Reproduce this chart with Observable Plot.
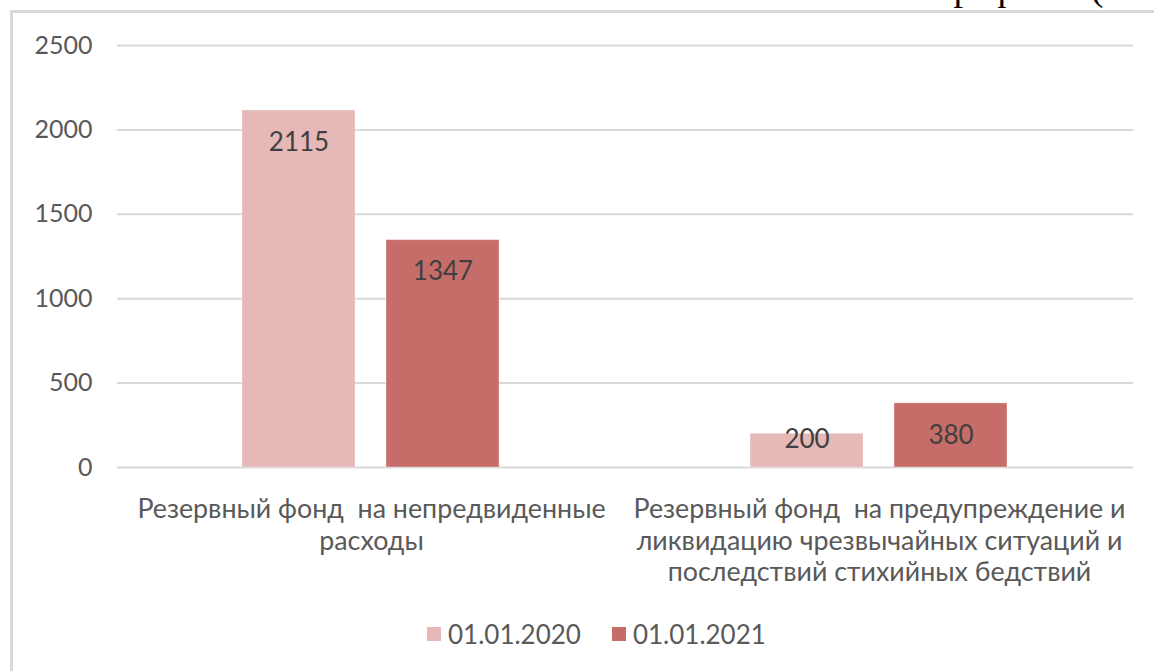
<!DOCTYPE html>
<html>
<head>
<meta charset="utf-8">
<script src="https://cdn.jsdelivr.net/npm/d3@7"></script>
<script src="https://cdn.jsdelivr.net/npm/@observablehq/plot@0.6"></script>
<style>
  html, body { margin: 0; padding: 0; background: #fff; overflow: hidden; }
  body { width: 1154px; height: 671px; position: relative; font-family: Lato, "Open Sans", sans-serif; }
  #frame { position: absolute; left: 10px; top: 10px; width: 1200px; height: 700px; border-left: 3px solid #d9d9d9; border-top: 3px solid #d9d9d9; box-sizing: border-box; }
  #header { position: absolute; left: 934px; top: -32px; font: 38px "Liberation Serif", "DejaVu Serif", serif; line-height: 1; color: #000; white-space: nowrap; }
  #chart { position: absolute; left: 0; top: 0; }
  #legend { position: absolute; left: 427px; top: 618px; }
  #legend .lg-swatches { font-family: Lato, "Open Sans", sans-serif; font-size: 26px; color: #595959; min-height: 0; margin: 0; }
  #legend .lg-swatch { margin-right: 31px; }
  #legend .lg-swatch svg { margin-right: 7px; }
</style>
</head>
<body>
<div id="frame"></div>
<div id="header">График 5 (тыс. руб.)</div>
<div id="chart"></div>
<div id="legend"></div>
<script>
const categories = [
  "Резервный фонд  на непредвиденные расходы",
  "Резервный фонд  на предупреждение и ликвидацию чрезвычайных ситуаций и последствий стихийных бедствий"
];
const categoryLabels = [
  "Резервный фонд  на непредвиденные\nрасходы",
  "Резервный фонд  на предупреждение и\nликвидацию чрезвычайных ситуаций и\nпоследствий стихийных бедствий"
];
const series = ["01.01.2020", "01.01.2021"];
const values2020 = [2115, 200];
const values2021 = [1347, 380];
const seriesColors = ["#e6b8b7", "#c76d69"];
const yTicks = [0, 500, 1000, 1500, 2000, 2500];

const rows = [];
categories.forEach((c, i) => {
  rows.push({category: c, series: series[0], value: values2020[i]});
  rows.push({category: c, series: series[1], value: values2021[i]});
});

const chart = Plot.plot({
  width: 1154,
  height: 600,
  marginLeft: 117,
  marginRight: 21,
  marginTop: 45,
  marginBottom: 133,
  style: {fontFamily: "Lato, 'Open Sans', sans-serif", background: "transparent", overflow: "visible"},
  fx: {domain: categories, padding: 0},
  x: {domain: series, paddingInner: 0.215, paddingOuter: 0.871, axis: null},
  y: {domain: [0, 2500]},
  color: {domain: series, range: seriesColors},
  marks: [
    Plot.gridY(yTicks, {stroke: "#d9d9d9", strokeOpacity: 1, strokeWidth: 2}),
    Plot.barY(rows, {fx: "category", x: "series", y: "value", fill: "series", stroke: "#ffffff", strokeOpacity: 0.35, strokeWidth: 1}),
    Plot.text(rows.filter(d => d.value >= 300), {fx: "category", x: "series", y: "value", text: d => String(d.value), dy: 32, fontSize: 26, fill: "#404040", lineAnchor: "middle"}),
    Plot.text(rows.filter(d => d.value < 300), {fx: "category", x: "series", y: "value", text: d => String(d.value), dy: 6, fontSize: 26, fill: "#404040", lineAnchor: "middle"}),
    Plot.axisY(yTicks, {tickSize: 0, tickPadding: 25, fontSize: 25, fill: "#595959", label: null, tickFormat: d => String(d)}),
    Plot.axisFx({anchor: "bottom", tickSize: 0, tickPadding: 28, fontSize: 26.8, lineHeight: 1.18, fill: "#595959", label: null, tickFormat: (d) => categoryLabels[categories.indexOf(d)]})
  ]
});
document.getElementById("chart").appendChild(chart);

const legend = Plot.legend({
  color: {domain: series, range: seriesColors},
  legend: "swatches",
  swatchSize: 14,
  className: "lg"
});
document.getElementById("legend").appendChild(legend);
</script>
</body>
</html>
